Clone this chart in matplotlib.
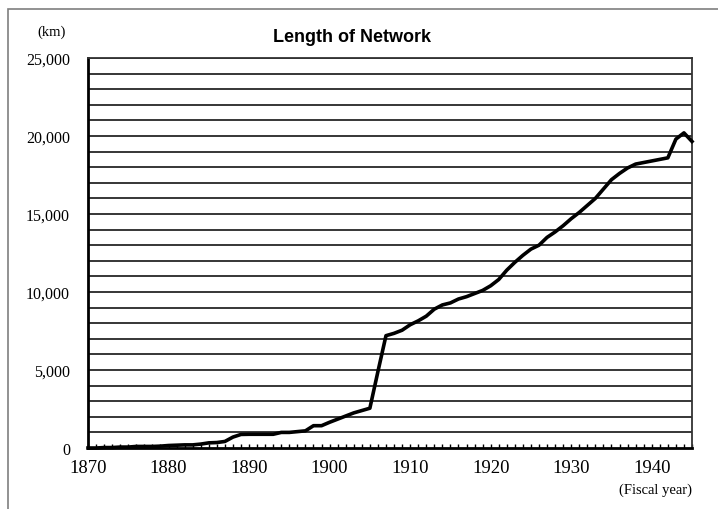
import matplotlib
matplotlib.use('Agg')
import matplotlib.pyplot as plt
from matplotlib.patches import Rectangle
from matplotlib.ticker import MultipleLocator, FuncFormatter

# fiscal years and network length (km)
years = list(range(1870, 1946))
length_km = [
    0, 0, 29, 29, 60, 60, 100, 100, 100, 120,          # 1870-1879
    160, 180, 200, 200, 250, 330, 350, 420, 700, 870,  # 1880-1889
    880, 880, 880, 880, 1000, 1000, 1050, 1100, 1430, 1430,  # 1890-1899
    1650, 1850, 2050, 2250, 2400, 2550, 4900, 7200, 7350, 7550,  # 1900-1909
    7900, 8150, 8450, 8900, 9170, 9300, 9550, 9700, 9900, 10100,  # 1910-1919
    10400, 10800, 11400, 11900, 12350, 12750, 13000, 13500, 13850, 14250,  # 1920-1929
    14700, 15100, 15550, 16000, 16600, 17200, 17600, 17950, 18200, 18300,  # 1930-1939
    18400, 18500, 18600, 19800, 20200, 19650,          # 1940-1945
]

serif = 'Liberation Serif'

fig = plt.figure(figsize=(7.18, 5.10), dpi=100)
ax = fig.add_axes([88 / 718, 61 / 510, 604 / 718, 390 / 510])

# gray frame (left/top edges visible)
fig.patches.append(Rectangle((8 / 718, -0.1), 1.2, 1 - 10 / 510 + 0.1,
                             transform=fig.transFigure, fill=False,
                             edgecolor='#7f7f7f', lw=1.2))

for y in range(1000, 25001, 1000):
    ax.axhline(y, color='black', lw=1.1, zorder=1)

ax.plot(years, length_km, color='black', lw=2.6, zorder=3, clip_on=False)

ax.set_xlim(1870, 1945)
ax.set_ylim(0, 25000)
ax.xaxis.set_major_locator(MultipleLocator(10))
ax.xaxis.set_minor_locator(MultipleLocator(1))
ax.yaxis.set_major_locator(MultipleLocator(5000))
ax.yaxis.set_major_formatter(FuncFormatter(lambda v, p: f'{int(v):,}'))

ax.tick_params(axis='x', which='both', direction='in', length=3, width=1,
               pad=8, labelsize=13.5)
ax.tick_params(axis='y', length=0, pad=13, labelsize=11.5)
for lbl in ax.get_xticklabels() + ax.get_yticklabels():
    lbl.set_fontfamily(serif)

for s in ['left', 'bottom']:
    ax.spines[s].set_linewidth(2)
for s in ['top', 'right']:
    ax.spines[s].set_linewidth(1.3)
    ax.spines[s].set_color('#333333')

fig.text(352 / 718, 1 - 37 / 510, 'Length of Network', ha='center', va='center',
         fontsize=13, fontweight='bold', fontfamily='Liberation Sans')
fig.text(52 / 718, 1 - 32 / 510, '(km)', ha='center', va='center',
         fontsize=10.5, fontfamily=serif)
fig.text(692 / 718, 1 - 490 / 510, '(Fiscal year)', ha='right', va='center',
         fontsize=10.5, fontfamily=serif)

fig.savefig('out.png', dpi=100)
